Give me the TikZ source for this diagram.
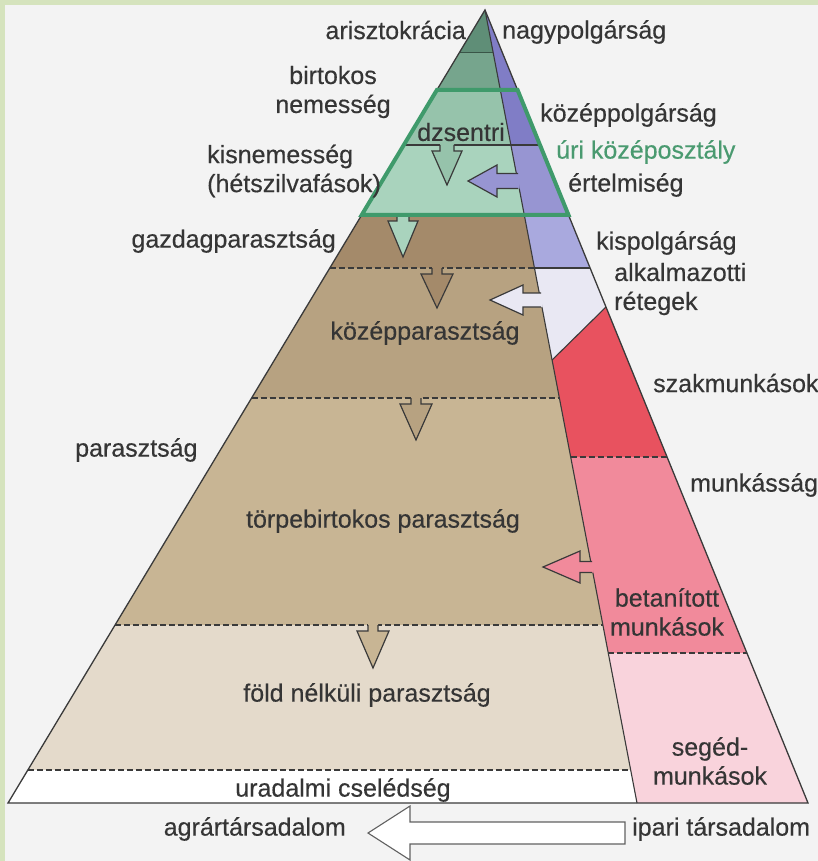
\documentclass[tikz,border=0pt]{standalone}
\usepackage{fontspec}
\setmainfont{Liberation Sans}[FakeBold=0.35]
\usetikzlibrary{calc}
\definecolor{bgc}{HTML}{F3F3F3}
\definecolor{framec}{HTML}{D5E3BD}
\definecolor{txt}{HTML}{353535}
\definecolor{edge}{HTML}{3A3A3A}
\definecolor{gA}{HTML}{5F8E77}
\definecolor{gB}{HTML}{76A58D}
\definecolor{gC}{HTML}{96C3AB}
\definecolor{gD}{HTML}{A9D3BD}
\definecolor{gline}{HTML}{3F9A6B}
\definecolor{urigreen}{HTML}{4A9A70}
\definecolor{bA}{HTML}{A48A6A}
\definecolor{bB}{HTML}{B7A281}
\definecolor{bC}{HTML}{C8B594}
\definecolor{bD}{HTML}{E4DACB}
\definecolor{pA}{HTML}{807DC6}
\definecolor{pB}{HTML}{9795D2}
\definecolor{pC}{HTML}{A9A9DE}
\definecolor{alk}{HTML}{E9E8F3}
\definecolor{szak}{HTML}{E8525F}
\definecolor{bet}{HTML}{F18A9B}
\definecolor{seg}{HTML}{F9D3DC}
\newcommand\mydarr[6]{%
  \fill[#6] (#1-#3,#2-1.5) -- (#1-#3,#2+6) -- (#1-#4,#2+6) -- (#1,#2+#5) -- (#1+#4,#2+6) -- (#1+#3,#2+6) -- (#1+#3,#2-1.5) -- cycle;
  \draw[arrline] (#1-#3,#2) -- (#1-#3,#2+6) -- (#1-#4,#2+6) -- (#1,#2+#5) -- (#1+#4,#2+6) -- (#1+#3,#2+6) -- (#1+#3,#2);}
\newcommand\mylarr[7]{%
  \fill[#7] (#4,#2-#6) -- (#3,#2-#6) -- (#3,#2-#5) -- (#1,#2) -- (#3,#2+#5) -- (#3,#2+#6) -- (#4,#2+#6) -- cycle;
  \draw[arrline] (#4-1.5,#2-#6) -- (#3,#2-#6) -- (#3,#2-#5) -- (#1,#2) -- (#3,#2+#5) -- (#3,#2+#6) -- (#4-1.5,#2+#6);}
\begin{document}
\begin{tikzpicture}[x=1pt,y=-1pt,
  lab/.style={font=\fontsize{25}{29}\selectfont, text=txt, inner sep=0pt},
  arrline/.style={draw=edge, line width=1.2pt, line join=miter},
  sep/.style={draw=edge, line width=1.1pt},
  dashsep/.style={draw=edge, line width=1.2pt, dash pattern=on 6pt off 3pt}]
\useasboundingbox (0,0) rectangle (818,861);
\fill[bgc] (0,0) rectangle (818,861);
\fill[framec] (0,0) rectangle (818,5);
\fill[framec] (0,0) rectangle (5,861);

\coordinate (A) at (485,10);
\coordinate (BL) at (8,803);
\coordinate (BD) at (637,803);
\coordinate (BR) at (808,803);
\foreach \yy in {53,90,145,215,268,307,360,398,457,625,653,770}{
  \pgfmathsetmacro\tt{(\yy-10)/793}
  \coordinate (L\yy) at ($(A)!\tt!(BL)$);
  \coordinate (D\yy) at ($(A)!\tt!(BD)$);
  \coordinate (R\yy) at ($(A)!\tt!(BR)$);
}
% agrarian side
\fill[gA] (A) -- (L53) -- (D53) -- cycle;
\fill[gB] (L53) -- (D53) -- (D90) -- (L90) -- cycle;
\fill[gC] (L90) -- (D90) -- (D145) -- (L145) -- cycle;
\fill[gD] (L145) -- (D145) -- (D215) -- (L215) -- cycle;
\fill[bA] (L215) -- (D215) -- (D268) -- (L268) -- cycle;
\fill[bB] (L268) -- (D268) -- (D398) -- (L398) -- cycle;
\fill[bC] (L398) -- (D398) -- (D625) -- (L625) -- cycle;
\fill[bD] (L625) -- (D625) -- (D770) -- (L770) -- cycle;
\fill[white] (L770) -- (D770) -- (BD) -- (BL) -- cycle;
% industrial side
\fill[pA] (A) -- (D145) -- (R145) -- cycle;
\fill[pB] (D145) -- (R145) -- (R215) -- (D215) -- cycle;
\fill[pC] (D215) -- (R215) -- (R268) -- (D268) -- cycle;
\fill[alk] (D268) -- (R268) -- (R307) -- (D360) -- cycle;
\fill[szak] (D360) -- (R307) -- (R457) -- (D457) -- cycle;
\fill[bet] (D457) -- (R457) -- (R653) -- (D653) -- cycle;
\fill[seg] (D653) -- (R653) -- (BR) -- (BD) -- cycle;
% separators
\draw[draw=gA!60!black, line width=1pt] (L53) -- (D53);
\draw[sep] (L145) -- (R145);
\draw[sep] (D268) -- (R268);
\draw[sep] (D360) -- (R307);
\draw[dashsep] (L268) -- (D268);
\draw[dashsep] (L398) -- (D398);
\draw[dashsep] (D457) -- (R457);
\draw[dashsep] (L625) -- (D625);
\draw[dashsep] (D653) -- (R653);
\draw[dashsep] (L770) -- (D770);
% outline and divider
\draw[sep, line width=1.3pt] (A) -- (BL) -- (BR) -- cycle;
\draw[sep] (A) -- (BD);
% down arrows
\mydarr{447}{145}{7}{15}{40}{gC}
\mydarr{403}{215}{6}{15}{42}{gD}
\mydarr{437}{268}{5}{16}{40}{bA}
\mydarr{416}{398}{5}{16}{42}{bB}
\mydarr{373}{625}{5}{16}{43}{bC}
% left arrows
\mylarr{468}{181}{497}{519.5}{16}{7.5}{pB}
\mylarr{490}{300}{523}{542.5}{15}{7}{alk}
\mylarr{543}{567}{580}{593.5}{16}{5.5}{bet}
% green outline
\draw[gline, line width=4pt, line join=miter] (L90) -- (R90) -- (R215) -- (L215) -- cycle;
% bottom arrow
\draw[draw=edge!80, line width=1.1pt, fill=white] (368,833) -- (410,806) -- (410,822) -- (625,822) -- (625,844) -- (410,844) -- (410,860) -- cycle;
% labels
\node[lab, anchor=east] (arisz) at (466,30) {arisztokrácia};
\node[lab, anchor=west] (nagyp) at (502,32) {nagypolgárság};
\node[lab, align=center] (birt) at (333,92) {birtokos\\nemesség};
\node[lab] (dzs) at (461,132) {dzsentri};
\node[lab, anchor=west] (kozpp) at (540,115) {középpolgárság};
\node[lab, anchor=west, text=urigreen] (uri) at (556,152) {úri középosztály};
\node[lab, align=left, anchor=west] (kisn) at (207,171) {kisnemesség\\(hétszilvafások)};
\node[lab, anchor=west] (ert) at (568,185) {értelmiség};
\node[lab, anchor=east] (gazd) at (336,241) {gazdagparasztság};
\node[lab, anchor=west] (kisp) at (596,243) {kispolgárság};
\node[lab, align=left, anchor=west] (alkr) at (614,289) {alkalmazotti\\rétegek};
\node[lab] (kozpar) at (425,333) {középparasztság};
\node[lab, anchor=west] (szakm) at (653,383) {szakmunkások};
\node[lab, anchor=west] (par) at (75,450) {parasztság};
\node[lab] (torpe) at (383,521) {törpebirtokos parasztság};
\node[lab, anchor=west] (munk) at (690,485) {munkásság};
\node[lab, align=center] (betm) at (667,612) {betanított\\munkások};
\node[lab] (fold) at (367,695) {föld nélküli parasztság};
\node[lab, align=center] (segm) at (710,761) {segéd-\\munkások};
\node[lab] (ura) at (343,790) {uradalmi cselédség};
\node[lab, anchor=east] (agr) at (346,829) {agrártársadalom};
\node[lab, anchor=west] (ipari) at (632,829) {ipari társadalom};
\end{tikzpicture}
\end{document}
